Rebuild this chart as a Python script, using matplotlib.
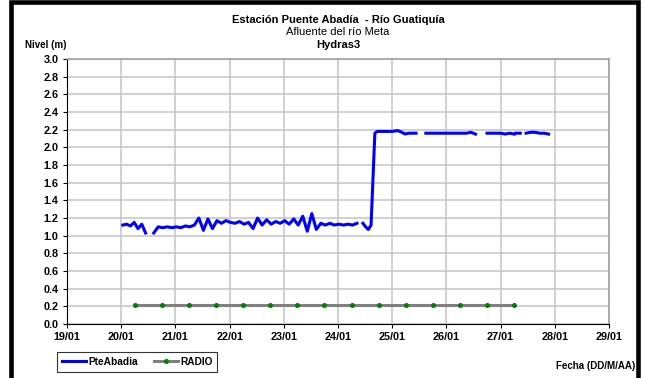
import matplotlib
matplotlib.use("Agg")
import matplotlib.pyplot as plt
from matplotlib.patches import Rectangle
import numpy as np

plt.rcParams['font.family'] = ['Liberation Sans', 'DejaVu Sans']

# --- datos ---
# PteAbadia: tramos (inicio en dias de enero, paso 2 h) separados por huecos
paso = 1.0 / 12
tramo1_ini = 20.03
tramo1 = [1.12, 1.13, 1.11, 1.15, 1.08, 1.13, 1.03]
tramo2_ini = 20.60
tramo2 = [1.03, 1.10, 1.09, 1.10, 1.09, 1.10, 1.09, 1.11, 1.10, 1.12,
          1.20, 1.06, 1.19, 1.08, 1.17, 1.14, 1.17, 1.15, 1.14, 1.16,
          1.13, 1.15, 1.08, 1.20, 1.12, 1.18, 1.13, 1.16, 1.14, 1.17,
          1.13, 1.19, 1.12, 1.22, 1.05, 1.25, 1.07, 1.14, 1.12, 1.14,
          1.12, 1.13, 1.12, 1.13, 1.12, 1.14]
# subida (tiempos explicitos)
tramo3_t = [24.46, 24.51, 24.56, 24.61, 24.68, 24.72, 24.80, 24.90, 25.00, 25.10,
            25.18, 25.24, 25.30, 25.37, 25.44]
tramo3 = [1.14, 1.10, 1.07, 1.12, 2.16, 2.18, 2.18, 2.18, 2.18, 2.19,
          2.17, 2.15, 2.16, 2.16, 2.16]
tramo4_ini = 25.62
tramo4 = [2.16, 2.16, 2.16, 2.16, 2.16, 2.16, 2.16, 2.16, 2.16, 2.16, 2.17, 2.15]
tramo5_ini = 26.75
tramo5 = [2.16, 2.16, 2.16, 2.16, 2.15, 2.16, 2.15]
tramo6_ini = 27.28
tramo6 = [2.16, 2.16]
tramo7_ini = 27.47
tramo7 = [2.16, 2.17, 2.17, 2.16, 2.16, 2.15]

radio_t = [20.25, 20.75, 21.25, 21.75, 22.25, 22.75, 23.25, 23.75,
           24.25, 24.75, 25.25, 25.75, 26.25, 26.75, 27.25]
radio_v = [0.22] * 15

x_ticks = [19, 20, 21, 22, 23, 24, 25, 26, 27, 28, 29]
x_labels = ['19/01', '20/01', '21/01', '22/01', '23/01', '24/01',
            '25/01', '26/01', '27/01', '28/01', '29/01']

# armar la serie con huecos
paso1 = 0.07
pte_t = [tramo1_ini + i * paso1 for i in range(len(tramo1))] + [np.nan]
pte_v = tramo1 + [np.nan]
pte_t += [tramo2_ini + i * paso for i in range(len(tramo2))] + [np.nan]
pte_v += tramo2 + [np.nan]
pte_t += tramo3_t + [np.nan]
pte_v += tramo3 + [np.nan]
for ini, vals in [(tramo4_ini, tramo4), (tramo5_ini, tramo5),
                  (tramo6_ini, tramo6), (tramo7_ini, tramo7)]:
    pte_t += [ini + i * paso for i in range(len(vals))] + [np.nan]
    pte_v += vals + [np.nan]

fig = plt.figure(figsize=(6.45, 3.78), dpi=100)
ax = fig.add_axes([67/645, 1 - 324/378, (609 - 67)/645, (324 - 59)/378])

ax.plot(radio_t, radio_v, color='#808080', lw=2.2, marker='o', ms=2.6,
        mfc='#008000', mec='#008000', label='RADIO', zorder=3)
ax.plot(pte_t, pte_v, color='#0000ff', lw=2.2, label='PteAbadia', zorder=4)

ax.set_xlim(19, 29)
ax.set_ylim(0, 3.0)
ax.set_xticks(x_ticks)
ax.set_xticklabels(x_labels)
ax.set_yticks(np.arange(0, 3.01, 0.2))
ax.set_yticklabels(['%.1f' % v for v in np.arange(0, 3.01, 0.2)])
ax.grid(True, color='#c8c8c8', lw=1.2)
ax.set_axisbelow(True)
ax.tick_params(labelsize=7.8, length=3, width=0.8, direction='out', pad=3)
for lab in ax.get_xticklabels() + ax.get_yticklabels():
    lab.set_fontweight('bold')
for s in ['left', 'bottom']:
    ax.spines[s].set_color('black')
    ax.spines[s].set_linewidth(0.8)
for s in ['top', 'right']:
    ax.spines[s].set_color('#a0a0a0')
    ax.spines[s].set_linewidth(1.2)

cx = (67 + 609) / 2 / 645
fig.text(cx, 1 - 20/378, 'Estación Puente Abadía  - Río Guatiquía', ha='center', va='center',
         fontsize=8, fontweight='bold')
fig.text(cx, 1 - 32/378, 'Afluente del río Meta', ha='center', va='center', fontsize=8)
fig.text(cx, 1 - 45/378, 'Hydras3', ha='center', va='center', fontsize=8, fontweight='bold')
fig.text(25/645, 1 - 45/378, 'Nivel (m)', ha='left', va='center', fontsize=7, fontweight='bold')
fig.text(635/645, 1 - 366/378, 'Fecha (DD/M/AA)', ha='right', va='center',
         fontsize=7, fontweight='bold')

h, l = ax.get_legend_handles_labels()
leg = fig.legend(h[::-1], l[::-1], loc='center', bbox_to_anchor=(137/645, 1 - 362/378),
                 ncol=2, fontsize=7.3, frameon=True, fancybox=False, handlelength=2.4,
                 handletextpad=0.2, columnspacing=1.6, borderpad=0.45, borderaxespad=0)
leg.get_frame().set_edgecolor('black')
leg.get_frame().set_linewidth(0.8)
for t in leg.get_texts():
    t.set_fontweight('bold')

# marco negro grueso
fig.patches.append(Rectangle((11/645, -0.1), (637.5 - 11)/645, 1.1 - 2.5/378,
                             transform=fig.transFigure, fill=False, ec='black', lw=3.3))

fig.savefig('out.png', dpi=100)
